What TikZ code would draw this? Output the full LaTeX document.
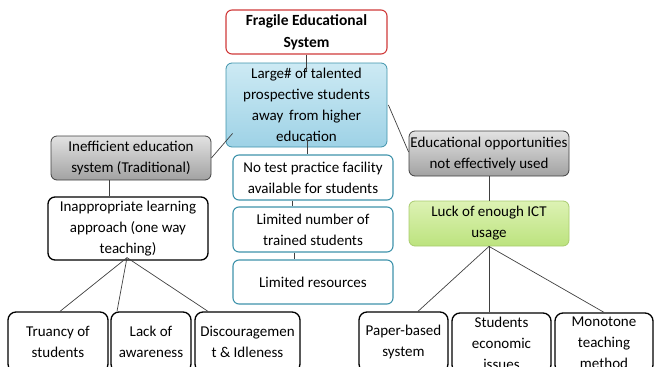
\documentclass[tikz,border=0pt]{standalone}
\usepackage{fontspec}
\setmainfont{Carlito}
\usetikzlibrary{calc}
\definecolor{redb}{HTML}{D03A3A}
\definecolor{tealb}{HTML}{3F93AB}
\definecolor{bluetop}{HTML}{CDEAF4}
\definecolor{bluebot}{HTML}{9ED2E6}
\definecolor{graytop}{HTML}{E2E2E2}
\definecolor{graybot}{HTML}{A2A2A2}
\definecolor{greentop}{HTML}{DDF2B4}
\definecolor{greenbot}{HTML}{BCE37E}
\definecolor{greenb}{HTML}{A9CC6E}
\definecolor{linec}{HTML}{404040}
\tikzset{
  base/.style={rounded corners=6pt, align=center, inner sep=1pt, font=\fontsize{15}{21}\selectfont, text=black},
  redbox/.style={base, draw=redb, line width=1.1pt, fill=white, font=\bfseries\fontsize{15.5}{22}\selectfont},
  bluebox/.style={base, draw=tealb, line width=0.8pt, top color=bluetop, bottom color=bluebot},
  tealbox/.style={base, draw=tealb, line width=1.1pt, fill=white},
  graybox/.style={base, draw=black!75, line width=0.8pt, top color=graytop, bottom color=graybot},
  greenbox/.style={base, draw=greenb, line width=0.8pt, top color=greentop, bottom color=greenbot},
  blackbox/.style={base, draw=black, line width=1.3pt, fill=white, rounded corners=8pt},
  conn/.style={draw=linec, line width=0.7pt}
}
\begin{document}
\begin{tikzpicture}[x=1pt,y=-1pt]
\useasboundingbox (0,0) rectangle (654,367);
\clip (0,0) rectangle (654,367);
\node[redbox, minimum width=161pt, minimum height=44pt] (frag) at (306.5,32) {Fragile Educational\\System};
\node[bluebox, minimum width=161pt, minimum height=84pt] (blue) at (306.5,105) {Large\# of talented\\prospective students\\away\, from higher\\education};
\node[tealbox, minimum width=160pt, minimum height=45pt] (notest) at (313,177.5) {No test practice facility\\available for students};
\node[tealbox, minimum width=160pt, minimum height=45pt] (limnum) at (313,229.5) {Limited number of\\trained students};
\node[tealbox, minimum width=160pt, minimum height=44pt] (limres) at (313,282) {Limited resources};
\node[graybox, minimum width=160pt, minimum height=44pt] (ineff) at (131,158) {Inefficient education\\system (Traditional)};
\node[blackbox, minimum width=160pt, minimum height=63pt, rounded corners=7pt] (inapp) at (128,228.5) {Inappropriate learning\\approach (one way\\teaching)};
\node[graybox, minimum width=160pt, minimum height=45pt] (eduopp) at (489,153.5) {Educational opportunities\\not effectively used};
\node[greenbox, minimum width=160pt, minimum height=45pt] (luck) at (489,223.5) {Luck of enough ICT\\usage};
\node[blackbox, minimum width=100pt, minimum height=60pt] (truancy) at (58,342) {Truancy of\\students};
\node[blackbox, minimum width=80pt, minimum height=60pt] (lack) at (151,342) {Lack of\\awareness};
\node[blackbox, minimum width=105pt, minimum height=60pt] (discour) at (247.5,342) {Discouragemen\\t \& Idleness};
\node[blackbox, minimum width=89pt, minimum height=60pt] (paper) at (403.5,342) {Paper-based\\system};
\node[blackbox, minimum width=99pt, minimum height=60pt] (students) at (501.5,343) {Students\\economic\\issues};
\node[blackbox, minimum width=98pt, minimum height=60pt] (monotone) at (604,343) {Monotone\\teaching\\method};
% connectors
\draw[conn] (frag.south) -- ($(blue.north)+(0,8)$);
\draw[conn] ($(blue.south)+(0.5,-7)$) -- ($(notest.north)+(-6,0)$);
\draw[conn] ($(notest.south)+(-21,0)$) -- ($(limnum.north)+(-21,0)$);
\draw[conn] ($(limnum.south)+(-19,0)$) -- ($(limres.north)+(-19,0)$);
\draw[conn] ($(blue.south west)+(7,-14)$) -- (ineff.east);
\draw[conn] ($(blue.east)+(1,0)$) -- ($(eduopp.west)+(0,-1.5)$);
\draw[conn] ($(ineff.south)+(-22,0)$) -- ($(inapp.north)+(-19,0)$);
\coordinate (apexL) at ($(inapp.south)+(-1,-3)$);
\draw[conn] (apexL) -- ($(truancy.north)+(2,0)$);
\draw[conn] (apexL) -- ($(lack.north)+(-34,0)$);
\draw[conn] (apexL) -- ($(discour.north)+(-39.5,0)$);
\draw[conn] (eduopp.south) -- (luck.north);
\draw[conn] (luck.south) -- ($(paper.north)+(14.5,0)$);
\draw[conn] (luck.south) -- ($(students.north)+(-12.5,0)$);
\draw[conn] (luck.south) -- (monotone.north);
\end{tikzpicture}
\end{document}
